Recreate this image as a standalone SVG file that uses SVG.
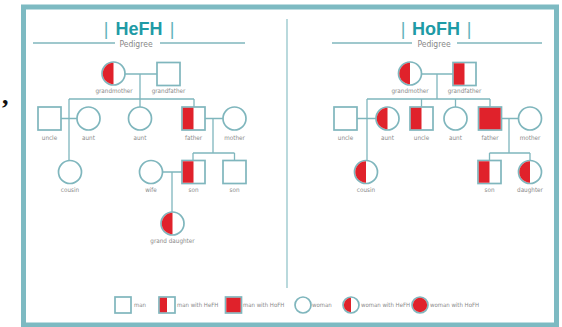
<svg xmlns="http://www.w3.org/2000/svg" width="562" height="327" viewBox="0 0 562 327">
<style>
.ln{stroke:#7fb6bd;stroke-width:1.3;fill:none}
.nd{stroke:#7fb6bd;stroke-width:1.7;fill:#fff}
.rd{fill:#e0222b}
.lb{font-family:"Liberation Sans Narrow","DejaVu Sans Condensed","Liberation Sans",sans-serif;font-size:6.3px;fill:#8a8a8a;text-anchor:middle}
.lg{font-family:"Liberation Sans Narrow","DejaVu Sans Condensed","Liberation Sans",sans-serif;font-size:6px;fill:#8a8a8a}
.tt{font-family:"Liberation Sans","Open Sans",sans-serif;font-size:18px;font-weight:bold;fill:#1f9ba6;text-anchor:middle}
.bar{font-family:"Liberation Sans",sans-serif;font-size:18px;fill:#5fb3bb;text-anchor:middle}
.pd{font-family:"Liberation Sans Narrow","DejaVu Sans Condensed","Liberation Sans",sans-serif;font-size:8.5px;fill:#888;text-anchor:middle}
</style>
<rect x="0" y="0" width="562" height="327" fill="#fff"/>
<rect x="23.5" y="7" width="533" height="318" fill="#fff" stroke="#7dbac2" stroke-width="5"/>
<text x="2" y="104" font-family="Liberation Serif,serif" font-size="26" font-weight="bold" fill="#111">,</text>
<line x1="287" y1="19" x2="287" y2="288" stroke="#9cc9ce" stroke-width="1.4"/>

<g id="header-left">
<text class="bar" x="106" y="35">|</text>
<text class="tt" x="139" y="35">HeFH</text>
<text class="bar" x="172" y="35">|</text>
<line class="ln" x1="33" y1="43" x2="115" y2="43"/>
<line class="ln" x1="160" y1="43" x2="245" y2="43"/>
<text class="pd" x="136" y="46.5">Pedigree</text>
</g>
<g id="header-right">
<text class="bar" x="403" y="35">|</text>
<text class="tt" x="436" y="35">HoFH</text>
<text class="bar" x="469" y="35">|</text>
<line class="ln" x1="332" y1="43" x2="412" y2="43"/>
<line class="ln" x1="457" y1="43" x2="542" y2="43"/>
<text class="pd" x="434" y="46.5">Pedigree</text>
</g>

<g id="connectors">
<path class="ln" d="M125 74H157 M140 74V107 M69 99H194 M69 99V160 M194 99V107 M61 118.5H77 M205 118.5H223 M213 118.5V153 M193 153H234.5 M193 153V160.5 M234.5 153V160.5 M162.5 172H182 M172 172V212"/>
<path class="ln" d="M421.5 74H453 M437 74V99 M367 99H490 M367 99V160.5 M421.5 99V107 M455.5 99V107 M490 99V107 M357 118.5H376 M501.5 118.5H518.5 M509 118.5V153 M489.5 153H530 M489.5 153V160.5 M530 153V160.5"/>
</g>

<g id="l-grandmother"><circle class="nd" cx="113.5" cy="73.5" r="11.5"/><path class="rd" d="M113.5 62.8A10.7 10.7 0 0 0 113.5 84.2Z"/><text class="lb" x="114" y="93">grandmother</text></g>
<g id="l-grandfather"><rect class="nd" x="157" y="62.5" width="23" height="23"/><text class="lb" x="168.5" y="93">grandfather</text></g>
<g id="l-uncle"><rect class="nd" x="38" y="107" width="23" height="23"/><text class="lb" x="49.5" y="140">uncle</text></g>
<g id="l-aunt1"><circle class="nd" cx="88.5" cy="118.5" r="11.5"/><text class="lb" x="88.5" y="140">aunt</text></g>
<g id="l-aunt2"><circle class="nd" cx="140" cy="118.5" r="11.5"/><text class="lb" x="140" y="140">aunt</text></g>
<g id="l-father"><rect class="nd" x="182" y="107" width="23" height="23"/><rect class="rd" x="182.8" y="107.8" width="10.7" height="21.4"/><text class="lb" x="193.5" y="140">father</text></g>
<g id="l-mother"><circle class="nd" cx="234.5" cy="118.5" r="11.5"/><text class="lb" x="234.5" y="140">mother</text></g>
<g id="l-cousin"><circle class="nd" cx="70" cy="172" r="11.5"/><text class="lb" x="70" y="192">cousin</text></g>
<g id="l-wife"><circle class="nd" cx="151" cy="172" r="11.5"/><text class="lb" x="151" y="192">wife</text></g>
<g id="l-son1"><rect class="nd" x="182" y="160.5" width="23" height="23"/><rect class="rd" x="182.8" y="161.3" width="10.7" height="21.4"/><text class="lb" x="193.5" y="192">son</text></g>
<g id="l-son2"><rect class="nd" x="223" y="160.5" width="23" height="23"/><text class="lb" x="234.5" y="192">son</text></g>
<g id="l-granddaughter"><circle class="nd" cx="172.5" cy="223.5" r="11.5"/><path class="rd" d="M172.5 212.8A10.7 10.7 0 0 0 172.5 234.2Z"/><text class="lb" x="172.5" y="243">grand daughter</text></g>

<g id="r-grandmother"><circle class="nd" cx="410" cy="73.5" r="11.5"/><path class="rd" d="M410 62.8A10.7 10.7 0 0 0 410 84.2Z"/><text class="lb" x="410" y="93">grandmother</text></g>
<g id="r-grandfather"><rect class="nd" x="453" y="62.5" width="23" height="23"/><rect class="rd" x="453.8" y="63.3" width="10.7" height="21.4"/><text class="lb" x="464.5" y="93">grandfather</text></g>
<g id="r-uncle1"><rect class="nd" x="334" y="107" width="23" height="23"/><text class="lb" x="345.5" y="140">uncle</text></g>
<g id="r-aunt1"><circle class="nd" cx="387.5" cy="118.5" r="11.5"/><path class="rd" d="M387.5 107.8A10.7 10.7 0 0 0 387.5 129.2Z"/><text class="lb" x="387.5" y="140">aunt</text></g>
<g id="r-uncle2"><rect class="nd" x="410" y="107" width="23" height="23"/><rect class="rd" x="410.8" y="107.8" width="10.7" height="21.4"/><text class="lb" x="421.5" y="140">uncle</text></g>
<g id="r-aunt2"><circle class="nd" cx="455.5" cy="118.5" r="11.5"/><text class="lb" x="455.5" y="140">aunt</text></g>
<g id="r-father"><rect class="nd" x="478.5" y="107" width="23" height="23"/><rect class="rd" x="479.3" y="107.8" width="21.4" height="21.4"/><text class="lb" x="490" y="140">father</text></g>
<g id="r-mother"><circle class="nd" cx="530" cy="118.5" r="11.5"/><text class="lb" x="530" y="140">mother</text></g>
<g id="r-cousin"><circle class="nd" cx="366" cy="172" r="11.5"/><path class="rd" d="M366 161.3A10.7 10.7 0 0 0 366 182.7Z"/><text class="lb" x="366" y="192">cousin</text></g>
<g id="r-son"><rect class="nd" x="478" y="160.5" width="23" height="23"/><rect class="rd" x="478.8" y="161.3" width="10.7" height="21.4"/><text class="lb" x="489.5" y="192">son</text></g>
<g id="r-daughter"><circle class="nd" cx="530" cy="172" r="11.5"/><path class="rd" d="M530 161.3A10.7 10.7 0 0 0 530 182.7Z"/><text class="lb" x="530" y="192">daughter</text></g>

<g id="legend">
<rect class="nd" x="115" y="297" width="16" height="16"/><text class="lg" x="134" y="307">man</text>
<rect class="nd" x="159" y="297" width="16" height="16"/><rect class="rd" x="159.8" y="297.8" width="7.2" height="14.4"/><text class="lg" x="177" y="307">man with HeFH</text>
<rect class="nd" x="225.5" y="297" width="16" height="16"/><rect class="rd" x="226.3" y="297.8" width="14.4" height="14.4"/><text class="lg" x="243" y="307">man with HoFH</text>
<circle class="nd" cx="303" cy="305" r="8"/><text class="lg" x="312" y="307">woman</text>
<circle class="nd" cx="351" cy="305" r="8"/><path class="rd" d="M351 297.8A7.2 7.2 0 0 0 351 312.2Z"/><text class="lg" x="361" y="307">woman with HeFH</text>
<circle class="nd" cx="420" cy="305" r="8"/><circle class="rd" cx="420" cy="305" r="7.2"/><text class="lg" x="430" y="307">woman with HoFH</text>
</g>
</svg>
